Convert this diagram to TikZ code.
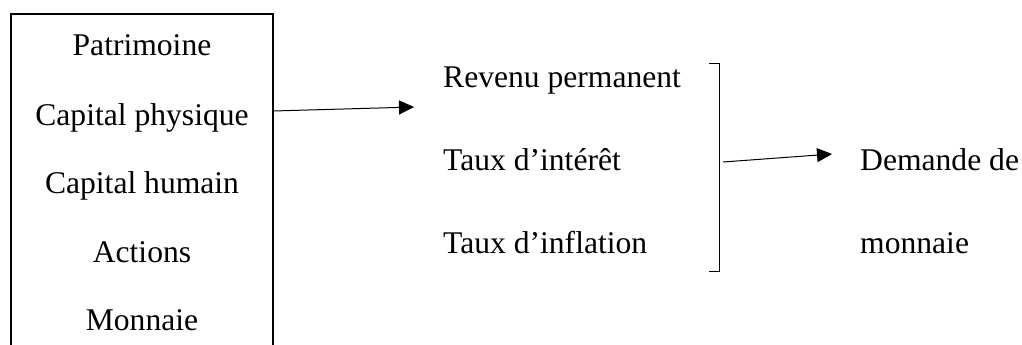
\documentclass[tikz,border=0pt]{standalone}
\usepackage{fontspec}
\setmainfont{Liberation Serif}
\usetikzlibrary{arrows.meta}
\begin{document}
\begin{tikzpicture}[x=1pt,y=-1pt,
  lbl/.style={inner sep=0pt,font=\fontsize{31.6}{38}\selectfont},
  conn/.style={line width=1pt,-{Triangle[length=15pt,width=14pt]}},
  frame/.style={line width=2pt},
  brk/.style={line width=1pt}]
\useasboundingbox (0,0) rectangle (1022,345);
% left box (open at bottom)
\coordinate (bl) at (11,350);
\coordinate (tl) at (11,14);
\coordinate (tr) at (273,14);
\coordinate (br) at (273,350);
\draw[frame] (bl) -- (tl) -- (tr) -- (br);
\node[lbl,anchor=base] (pat) at (142,56) {Patrimoine};
\node[lbl,anchor=base] (cph) at (142,125) {Capital physique};
\node[lbl,anchor=base] (chu) at (142,193) {Capital humain};
\node[lbl,anchor=base] (act) at (142,262) {Actions};
\node[lbl,anchor=base] (mon) at (142,330) {Monnaie};
% middle column
\node[lbl,anchor=base west] (rev) at (443,88) {Revenu permanent};
\node[lbl,anchor=base west] (ti) at (443,170) {Taux d’intérêt};
\node[lbl,anchor=base west] (tinf) at (443,253) {Taux d’inflation};
% bracket
\coordinate (bt0) at (709,64);
\coordinate (bt) at (719,64);
\coordinate (bb) at (719,271);
\coordinate (bb0) at (709,271);
\draw[brk] (bt0) -- (bt) -- (bb) -- (bb0);
% right text
\node[lbl,anchor=base west] (dem) at (860,170) {Demande de};
\node[lbl,anchor=base west] (mon2) at (860,253) {monnaie};
% arrows
\coordinate (a1s) at (273,111);
\coordinate (a1e) at (414,107);
\draw[conn] (a1s) -- (a1e);
\coordinate (a2s) at (723,162);
\coordinate (a2e) at (832,154);
\draw[conn] (a2s) -- (a2e);
\end{tikzpicture}
\end{document}
